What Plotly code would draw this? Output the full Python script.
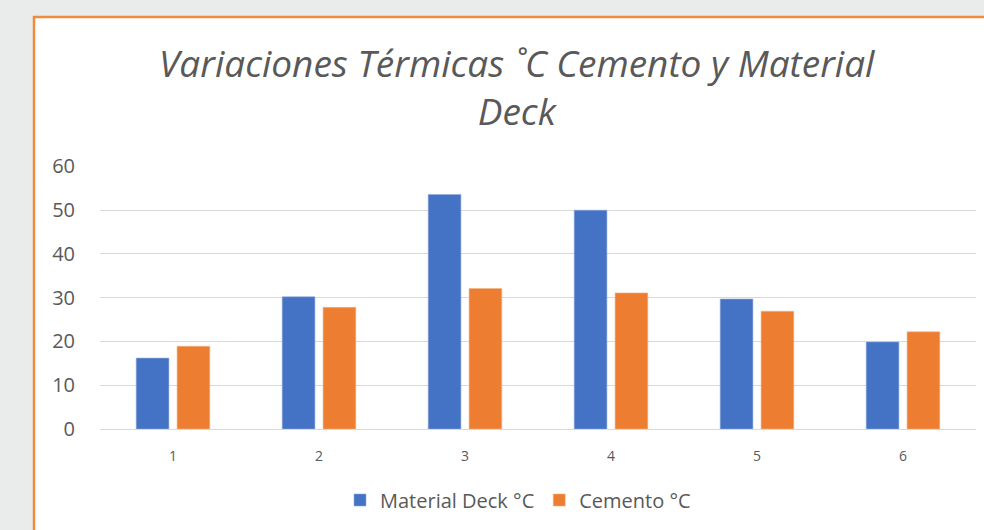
import plotly.graph_objects as go

categorias = ["1", "2", "3", "4", "5", "6"]
material_deck = [16.2, 30.2, 53.6, 50.0, 29.7, 19.9]
cemento = [18.9, 27.8, 32.1, 31.1, 26.9, 22.2]
y_ticks = [0, 10, 20, 30, 40, 50, 60]

AZUL = "#4472C4"
NARANJA = "#ED7D31"
GRIS_TXT = "#595959"

fig = go.Figure()
fig.add_trace(go.Bar(x=categorias, y=material_deck, name="Material Deck °C",
                     marker=dict(color=AZUL, line=dict(color="#8faadc", width=0.6))))
fig.add_trace(go.Bar(x=categorias, y=cemento, name="Cemento °C",
                     marker=dict(color=NARANJA, line=dict(color="#f4b183", width=0.6))))

# area de trazado: x 100..976 px, y 166..429 px
W, H = 984, 530
L, R, T, B = 100, 8, 166, 101
pw, ph = W - L - R, H - T - B


def px_x(p):
    return (p - L) / pw


def px_y(p):
    return (H - B - p) / ph


fig.update_layout(
    width=W, height=H,
    margin=dict(l=L, r=R, t=T, b=B),
    paper_bgcolor="#eaecec",
    plot_bgcolor="rgba(0,0,0,0)",
    barmode="group",
    bargap=0.44,
    bargroupgap=0.2,
    font=dict(family="Open Sans, sans-serif", color=GRIS_TXT),
    showlegend=True,
    legend=dict(orientation="h", xanchor="center", yanchor="middle",
                x=px_x(518), y=px_y(500), font=dict(size=20, color=GRIS_TXT),
                bgcolor="rgba(0,0,0,0)", itemwidth=30, traceorder="normal"),
    shapes=[dict(type="rect", xref="paper", yref="paper", layer="below",
                 x0=px_x(34), x1=px_x(1000), y0=px_y(560), y1=px_y(17),
                 fillcolor="white", line=dict(color="#F08A3C", width=2.5))],
    annotations=[dict(text="Variaciones Térmicas ˚C Cemento y Material<br>Deck",
                      xref="paper", yref="paper", x=px_x(517), y=px_y(86),
                      xanchor="center", yanchor="middle", showarrow=False,
                      font=dict(family="Open Sans, sans-serif", size=37, color=GRIS_TXT,
                                style="italic"))],
)

fig.update_yaxes(range=[0, 60.1], tickvals=y_ticks, showgrid=True, gridcolor="#d9d9d9",
                 gridwidth=1, zeroline=False, showline=False,
                 tickfont=dict(size=20, color=GRIS_TXT), ticklabelstandoff=24)
fig.update_xaxes(showline=True, linecolor="#d9d9d9", linewidth=1, showgrid=False,
                 tickfont=dict(size=14, color=GRIS_TXT), ticklabelstandoff=14)

fig.write_html("out.html", config={"displayModeBar": False},
               post_script="document.body.style.margin='0';")
